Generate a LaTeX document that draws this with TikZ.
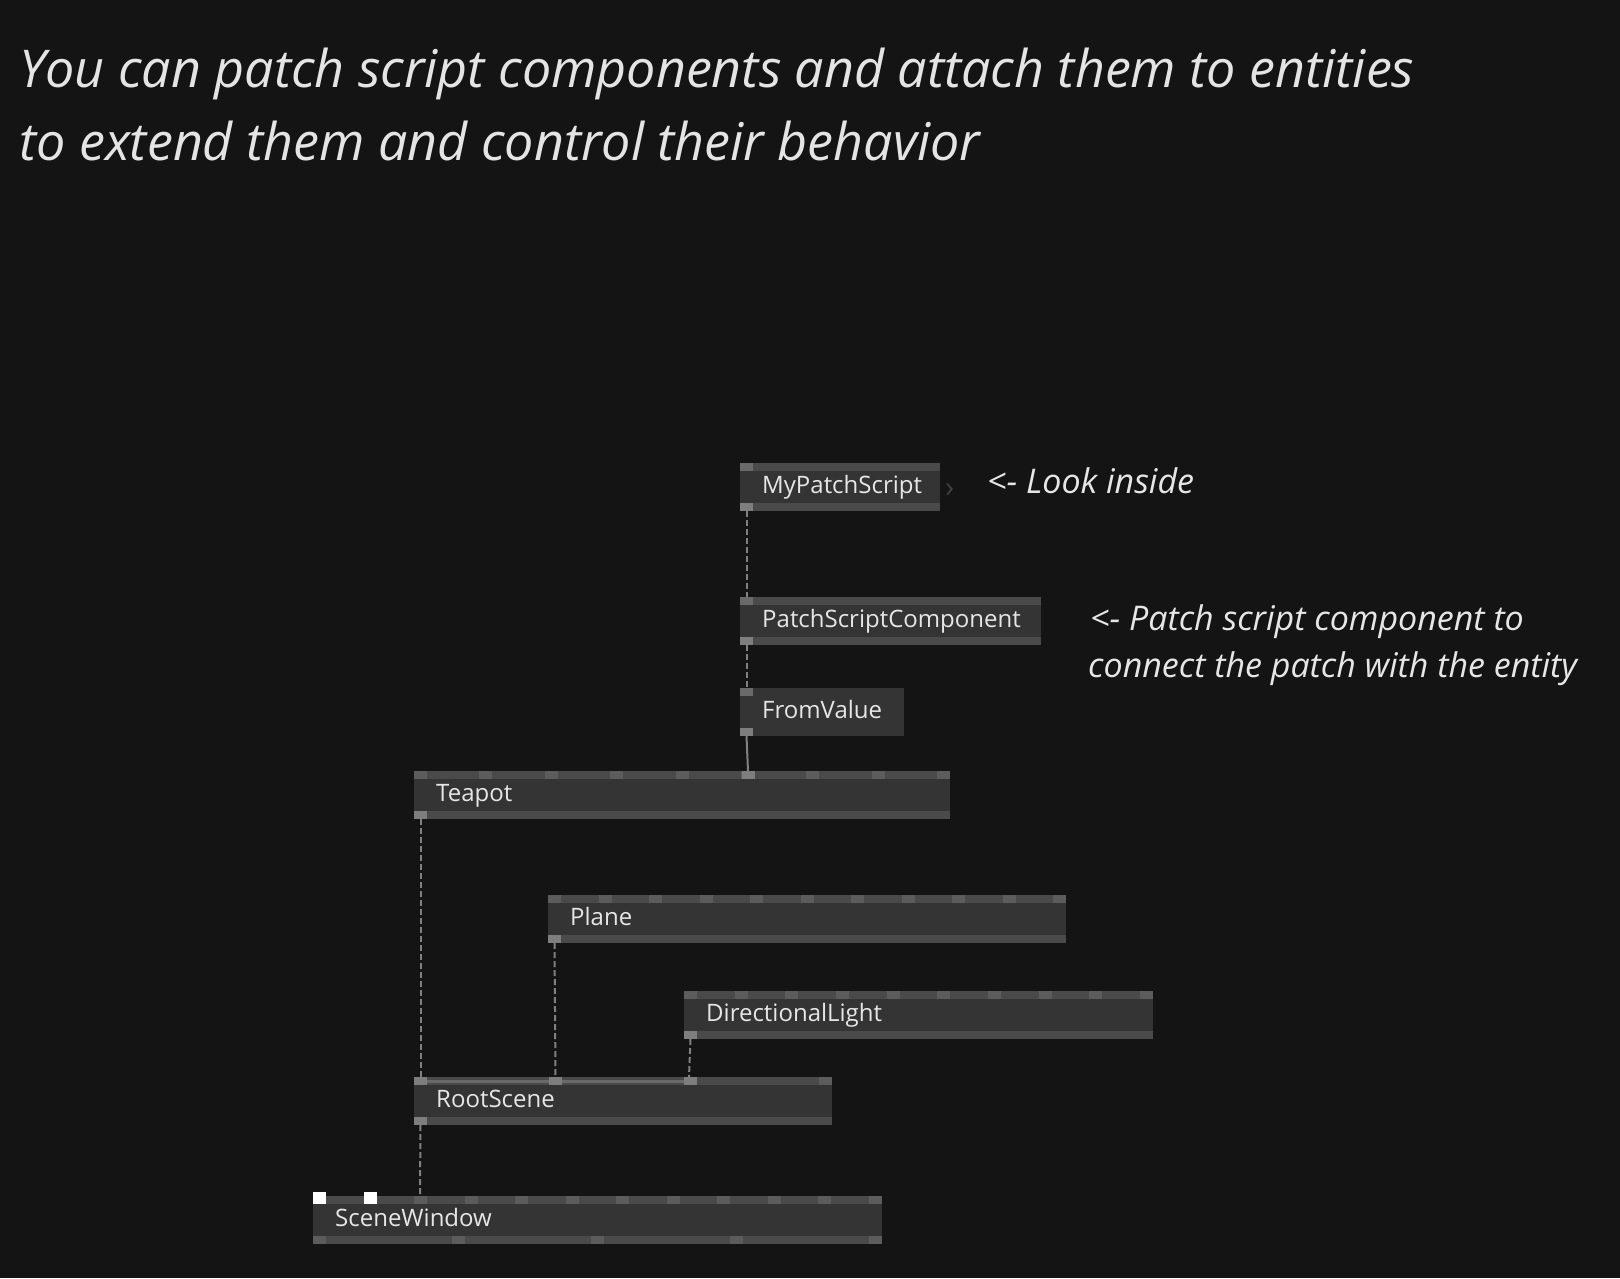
\documentclass[tikz,border=0pt]{standalone}
\usepackage{fontspec}
\setmainfont{Open Sans}
\begin{document}
\begin{tikzpicture}[x=1pt,y=-1pt,
  bg/.style={fill=bgc},
  vbox/.style={fill=bodyc, draw=none, inner sep=0pt, anchor=north west, minimum height=48pt},
  stripe/.style={fill=stripec},
  port/.style={fill=portc},
  lport/.style={fill=lportc},
  cport/.style={fill=cportc},
  wport/.style={fill=white},
  vtext/.style={text=txtc, inner sep=0pt, anchor=base west, font=\fontsize{24}{28}\selectfont},
  note/.style={text=txtc, inner sep=0pt, anchor=base west, font=\fontsize{34}{40}\selectfont\itshape},
  title/.style={text=titc, inner sep=0pt, anchor=base west, font=\fontsize{52}{62}\selectfont\itshape},
  link/.style={draw=linkc, line width=2pt},
  dlink/.style={link, dash pattern=on 6pt off 3pt},
]
\definecolor{bgc}{HTML}{141414}
\definecolor{bodyc}{HTML}{343434}
\definecolor{stripec}{HTML}{4A4A4A}
\definecolor{portc}{HTML}{5C5C5C}
\definecolor{lportc}{HTML}{6A6A6A}
\definecolor{cportc}{HTML}{7E7E7E}
\definecolor{txtc}{HTML}{E6E6E6}
\definecolor{titc}{HTML}{E4E4E4}
\definecolor{linkc}{HTML}{808080}
\definecolor{chevc}{HTML}{3E3E3E}
\useasboundingbox (0,0) rectangle (1620,1278);
\fill[bg] (0,0) rectangle (1620,1278);

% macros
\newcommand{\vvbox}[6]{% name,x,y,w,label,stripes(1/0)
  \node[vbox, minimum width=#4pt] (#1) at (#2,#3) {};
  \ifnum#6=1
    \fill[stripe] (#2,#3) rectangle ++(#4,8);
    \fill[stripe] (#2,#3+40) rectangle ++(#4,8);
  \fi
  \node[vtext] (#1-l) at (#2+22,#3+30) {#5};
}
\newcommand{\vvports}[5]{% x,y,w,n,style
  \ifnum#4=1
    \fill[#5] (#1,#2) rectangle ++(13,8);
  \else
    \foreach \i in {1,...,#4}{%
      \pgfmathsetmacro\px{#1+(\i-1)*(#3-13)/(#4-1)}%
      \fill[#5] (\px,#2) rectangle ++(13,8);}
  \fi
}

% title
\node[title] (t1) at (19,87) {You can patch script components and attach them to entities};
\node[title] (t2) at (19,160) {to extend them and control their behavior};

% MyPatchScript
\vvbox{mps}{740}{463}{200}{MyPatchScript}{1}
\vvports{740}{463}{200}{1}{lport}
\vvports{740}{503}{200}{1}{cport}
\node[text=chevc, inner sep=0pt, anchor=base west, font=\fontsize{30}{34}\selectfont] (chev) at (945,497) {›};
\node[note] (n1) at (987,493) {<- Look inside};

% PatchScriptComponent
\vvbox{psc}{740}{597}{301}{PatchScriptComponent}{1}
\vvports{740}{597}{301}{1}{lport}
\vvports{740}{637}{301}{1}{cport}
\node[note] (n2) at (1090,630) {<- Patch script component to};
\node[note] (n3) at (1088,677) {connect the patch with the entity};

% FromValue
\vvbox{fv}{740}{688}{164}{FromValue}{0}
\vvports{740}{688}{164}{1}{lport}
\vvports{740}{728}{164}{1}{cport}

% Teapot
\vvbox{tea}{414}{771}{536}{Teapot}{1}
\vvports{414}{771}{536}{9}{port}
\fill[cport] (741.5,771) rectangle ++(13,8);
\vvports{414}{811}{536}{1}{cport}

% Plane
\vvbox{pl}{548}{895}{518}{Plane}{1}
\vvports{548}{895}{518}{11}{port}
\vvports{548}{935}{518}{1}{cport}

% DirectionalLight
\vvbox{dl}{684}{991}{469}{DirectionalLight}{1}
\vvports{684}{991}{469}{10}{port}
\vvports{684}{1031}{469}{1}{cport}

% RootScene
\vvbox{rs}{414}{1077}{418}{RootScene}{1}
\fill[lportc] (420,1080) rectangle (697,1083);
\vvports{414}{1077}{418}{4}{port}
\vvports{414}{1077}{283}{3}{cport}
\vvports{414}{1117}{418}{1}{cport}

% SceneWindow
\vvbox{sw}{313}{1196}{569}{SceneWindow}{1}
\vvports{313}{1196}{569}{12}{port}
\vvports{313}{1236}{569}{5}{port}
\fill[white] (313,1192) rectangle ++(13,12);
\fill[white] (364,1192) rectangle ++(13,12);

% port coordinates
\coordinate (mps-o) at (746.5,511);
\coordinate (psc-i) at (746.5,597);
\coordinate (psc-o) at (746.5,645);
\coordinate (fv-i) at (746.5,688);
\coordinate (fv-o) at (746.5,736);
\coordinate (tea-i6) at (748,771);
\coordinate (tea-o) at (420.5,819);
\coordinate (rs-i1) at (420.5,1077);
\coordinate (pl-o) at (554.5,943);
\coordinate (rs-i2) at (555.5,1077);
\coordinate (dl-o) at (690.5,1039);
\coordinate (rs-i3) at (689,1077);
\coordinate (rs-o) at (420.5,1125);
\coordinate (sw-i3) at (420,1196);

\draw[dlink] (mps-o) -- (psc-i);
\draw[dlink] (psc-o) -- (fv-i);
\draw[link] (fv-o) -- (tea-i6);
\draw[dlink] (tea-o) -- (rs-i1);
\draw[dlink] (pl-o) -- (rs-i2);
\draw[dlink] (dl-o) -- (rs-i3);
\draw[dlink] (rs-o) -- (sw-i3);
\end{tikzpicture}
\end{document}
